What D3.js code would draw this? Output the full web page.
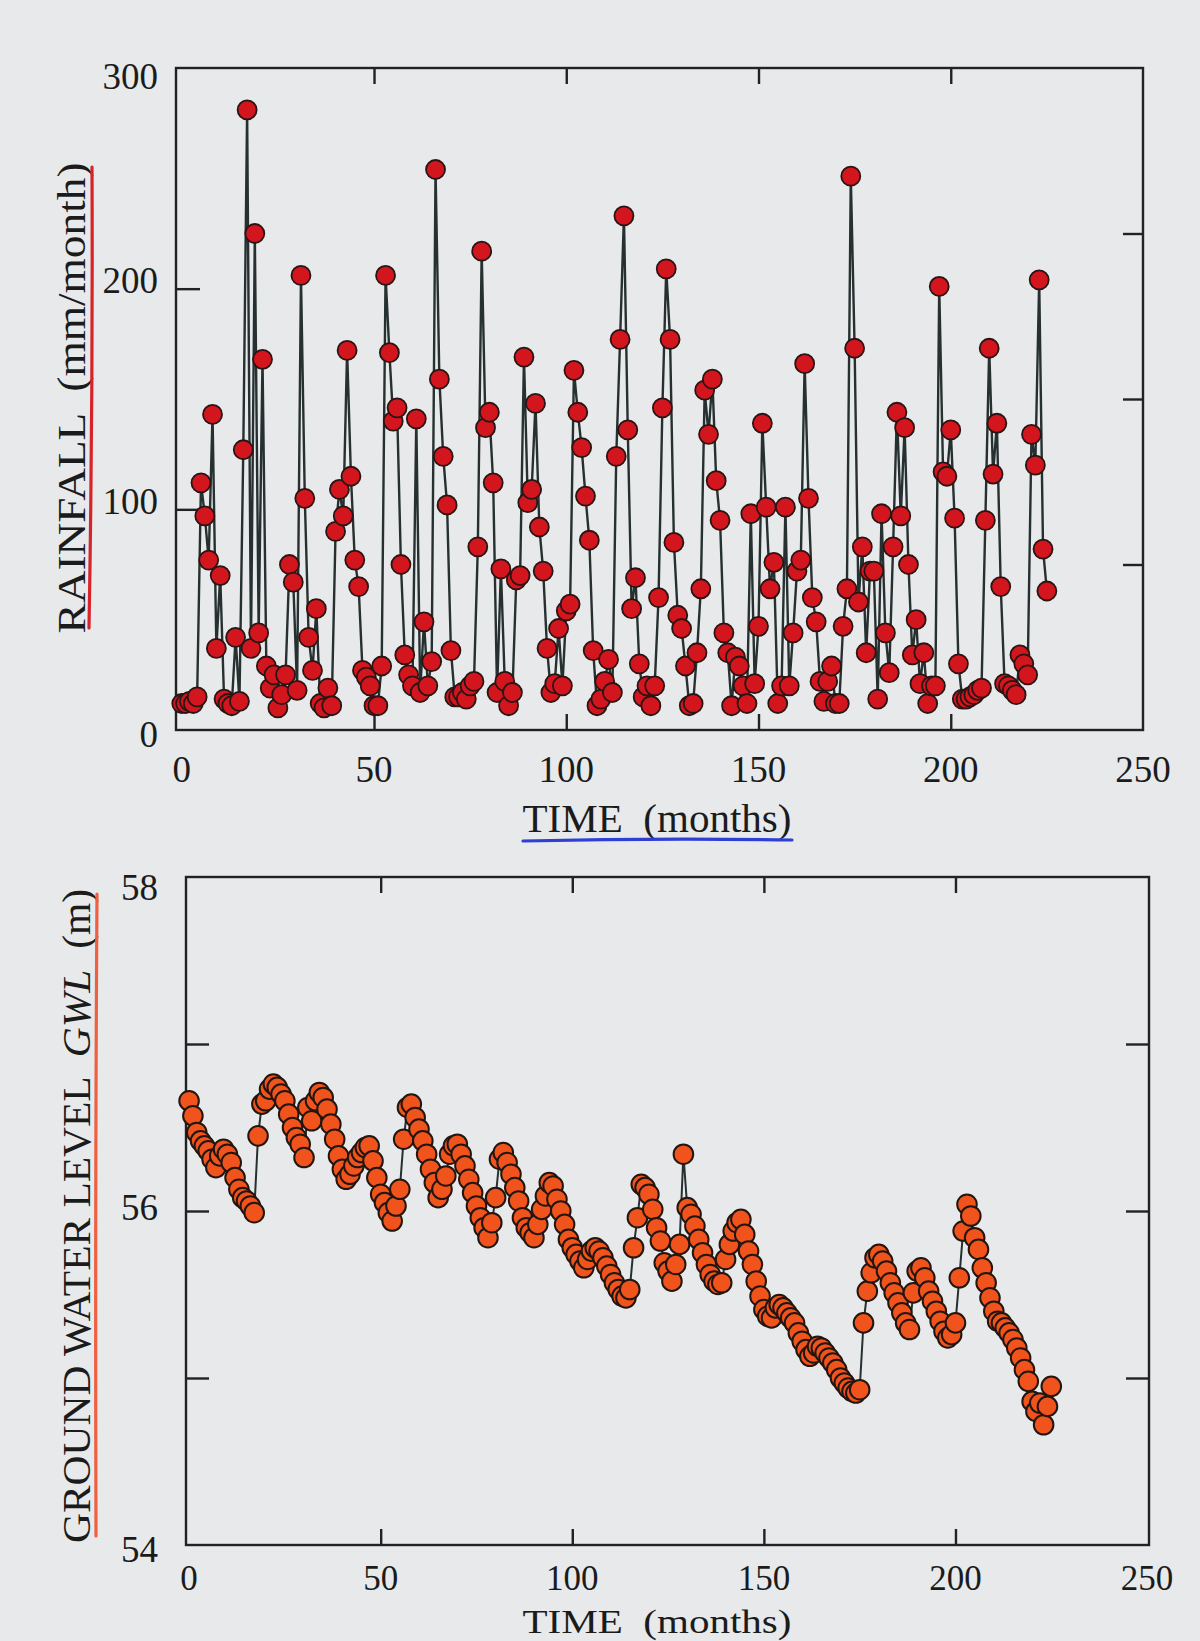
<!DOCTYPE html>
<html>
<head>
<meta charset="utf-8">
<script src="https://cdn.jsdelivr.net/npm/d3@7"></script>
<style>
  html, body { margin: 0; padding: 0; background: #e7e9ea; }
  svg { display: block; }
  text { font-family: "Liberation Serif", "Times New Roman", serif; fill: #1b1b1b; }
</style>
</head>
<body>
<svg id="fig" width="1200" height="1641"></svg>
<script>
// Monthly rainfall (mm/month), months 0..225
const rainfall = [
  12,12,13,12,15,112,97,77,143,37,
  70,14,12,11,42,13,127,281,37,225,
  44,168,29,19,25,10,16,25,75,67,
  18,206,105,42,27,55,12,10,19,11,
  90,109,97,172,115,77,65,27,24,20,
  11,11,29,206,171,140,146,75,34,25,
  20,141,17,49,20,31,254,159,124,102,
  36,15,15,17,14,20,22,83,217,137,
  144,112,17,73,22,11,17,68,70,169,
  103,109,148,92,72,37,17,21,46,20,
  54,57,163,144,128,106,86,36,11,14,
  22,32,17,124,177,233,136,55,69,30,
  15,20,11,20,60,146,209,177,85,52,
  46,29,11,12,35,64,154,134,159,113,
  95,44,35,11,33,29,20,12,98,21,
  47,139,101,64,76,12,20,101,20,44,
  72,77,166,105,60,49,22,13,22,29,
  12,12,47,64,251,173,58,83,35,72,
  72,14,98,44,26,83,144,97,137,75,
  34,50,21,35,12,20,20,201,117,115,
  136,96,30,14,14,15,16,18,19,95,
  173,116,139,65,21,20,18,16,34,30,
  25,134,120,204,82,63
];

// Monthly ground water level (m), months 0..225
const gwl = [
  56.66,56.57,56.47,56.42,56.39,56.36,56.31,56.26,56.33,56.37,
  56.34,56.29,56.20,56.13,56.08,56.06,56.03,55.99,56.45,56.64,
  56.66,56.73,56.76,56.74,56.70,56.66,56.58,56.50,56.44,56.40,
  56.32,56.62,56.54,56.66,56.71,56.68,56.61,56.52,56.43,56.33,
  56.25,56.19,56.22,56.27,56.32,56.35,56.38,56.39,56.30,56.20,
  56.10,56.05,55.99,55.94,56.03,56.13,56.43,56.62,56.64,56.56,
  56.49,56.42,56.34,56.25,56.17,56.08,56.13,56.21,56.34,56.39,
  56.40,56.34,56.27,56.19,56.11,56.03,55.96,55.90,55.84,55.93,
  56.08,56.31,56.35,56.29,56.22,56.14,56.06,55.96,55.90,55.87,
  55.84,55.92,56.01,56.09,56.17,56.15,56.07,56.00,55.92,55.83,
  55.78,55.74,55.70,55.66,55.71,55.76,55.78,55.76,55.72,55.67,
  55.62,55.57,55.53,55.49,55.48,55.53,55.78,55.96,56.16,56.14,
  56.10,56.01,55.90,55.82,55.69,55.64,55.58,55.68,55.80,56.34,
  56.02,55.98,55.91,55.83,55.75,55.68,55.62,55.58,55.56,55.57,
  55.71,55.80,55.88,55.93,55.95,55.86,55.76,55.68,55.58,55.49,
  55.41,55.37,55.36,55.42,55.44,55.42,55.39,55.36,55.33,55.27,
  55.22,55.17,55.13,55.15,55.19,55.18,55.15,55.12,55.09,55.05,
  55.00,54.97,54.94,54.92,54.91,54.93,55.33,55.52,55.63,55.72,
  55.74,55.70,55.64,55.57,55.51,55.45,55.39,55.33,55.29,55.51,
  55.64,55.66,55.60,55.52,55.46,55.40,55.34,55.28,55.24,55.26,
  55.33,55.60,55.88,56.04,55.97,55.84,55.77,55.66,55.57,55.48,
  55.40,55.34,55.33,55.30,55.27,55.23,55.18,55.12,55.05,54.98,
  54.86,54.80,54.85,54.72,54.83,54.95
];

const months = d3.range(rainfall.length);

// Tick values
const timeTickLabels = [0, 50, 100, 150, 200, 250];
const timeInnerTicks = [50, 100, 150, 200];
const rainTickLabels = [0, 100, 200, 300];
const rainLeftTicks = [100, 200];
const rainRightTicks = [75, 150, 225];
const gwlTickLabels = [54, 56, 58];
const gwlSideTicks = [55, 56, 57];

const svg = d3.select("#fig");

// Panel geometry
const rainPanel = { l: 176, r: 1143, t: 68, b: 730 };
const gwlPanel = { l: 186, r: 1149, t: 877, b: 1545 };

const xRain = d3.scaleLinear().domain([-1.5, 250]).range([rainPanel.l, rainPanel.r]);
const yRain = d3.scaleLinear().domain([0, 300]).range([rainPanel.b, rainPanel.t]);
const xGwl = d3.scaleLinear().domain([-0.8, 250.5]).range([gwlPanel.l, gwlPanel.r]);
const yGwl = d3.scaleLinear().domain([54, 58]).range([gwlPanel.b, gwlPanel.t]);

function drawFrame(p, x, y, opts) {
  const g = svg.append("g");
  // inward ticks on all four sides
  g.append("g").attr("transform", `translate(0,${p.b})`)
    .call(d3.axisBottom(x).tickValues(timeInnerTicks).tickSize(-opts.xTickLen).tickFormat(""));
  g.append("g").attr("transform", `translate(0,${p.t})`)
    .call(d3.axisTop(x).tickValues(timeInnerTicks).tickSize(-opts.xTickLen).tickFormat(""));
  g.append("g").attr("transform", `translate(${p.l},0)`)
    .call(d3.axisLeft(y).tickValues(opts.leftTicks).tickSize(-opts.leftLen).tickFormat(""));
  g.append("g").attr("transform", `translate(${p.r},0)`)
    .call(d3.axisRight(y).tickValues(opts.rightTicks).tickSize(-opts.rightLen).tickFormat(""));
  g.selectAll(".domain").remove();
  g.selectAll(".tick line").attr("stroke", "#222").attr("stroke-width", 2.4);

  g.append("rect")
    .attr("x", p.l).attr("y", p.t)
    .attr("width", p.r - p.l).attr("height", p.b - p.t)
    .attr("fill", "none").attr("stroke", "#222").attr("stroke-width", 2.4);

  // tick labels
  g.selectAll(".xl").data(timeTickLabels).enter().append("text")
    .attr("x", d => x(d)).attr("y", p.b + opts.xLabelOffset)
    .attr("text-anchor", "middle").attr("dominant-baseline", "central")
    .style("font-size", opts.xLabelSize).text(d => d);
  g.selectAll(".yl").data(opts.yLabels).enter().append("text")
    .attr("x", opts.yLabelX).attr("y", d => y(d) + opts.yLabelShift(d))
    .attr("text-anchor", "end").attr("dominant-baseline", "central")
    .style("font-size", "37px").text(d => d);
}

drawFrame(rainPanel, xRain, yRain, {
  xTickLen: 16, leftTicks: rainLeftTicks, leftLen: 24, rightTicks: rainRightTicks, rightLen: 20,
  xLabelOffset: 39, xLabelSize: "37px", yLabels: rainTickLabels, yLabelX: 158,
  yLabelShift: d => (d === 300 ? 8 : d === 0 ? 4 : -8)
});
drawFrame(gwlPanel, xGwl, yGwl, {
  xTickLen: 16, leftTicks: gwlSideTicks, leftLen: 23, rightTicks: gwlSideTicks, rightLen: 23,
  xLabelOffset: 33, xLabelSize: "35px", yLabels: gwlTickLabels, yLabelX: 158,
  yLabelShift: d => (d === 58 ? 10 : d === 54 ? 4 : -4)
});

// Rainfall series
const rainLine = d3.line().x(d => xRain(d)).y(d => yRain(rainfall[d]));
svg.append("path").datum(months).attr("d", rainLine)
  .attr("fill", "none").attr("stroke", "#263030").attr("stroke-width", 2.4)
  .attr("stroke-linejoin", "round");
svg.append("g").selectAll("circle").data(months).enter().append("circle")
  .attr("cx", d => xRain(d)).attr("cy", d => yRain(rainfall[d])).attr("r", 9.5)
  .attr("fill", "#d3151d").attr("stroke", "#2a1414").attr("stroke-width", 1.8);

// Ground water level series
const gwlLine = d3.line().x(d => xGwl(d)).y(d => yGwl(gwl[d]));
svg.append("path").datum(months).attr("d", gwlLine)
  .attr("fill", "none").attr("stroke", "#263030").attr("stroke-width", 2)
  .attr("stroke-linejoin", "round");
svg.append("g").selectAll("circle").data(months).enter().append("circle")
  .attr("cx", d => xGwl(d)).attr("cy", d => yGwl(gwl[d])).attr("r", 9.8)
  .attr("fill", "#f0541c").attr("stroke", "#231510").attr("stroke-width", 2);

// Axis titles
svg.append("text")
  .attr("transform", "translate(71,398) rotate(-90)")
  .attr("text-anchor", "middle").attr("dominant-baseline", "central")
  .attr("textLength", 471).attr("lengthAdjust", "spacingAndGlyphs")
  .style("font-size", "40px").style("white-space", "pre")
  .text("RAINFALL  (mm/month)");

const gt = svg.append("text")
  .attr("transform", "translate(76,1216) rotate(-90)")
  .attr("text-anchor", "middle").attr("dominant-baseline", "central")
  .attr("textLength", 654).attr("lengthAdjust", "spacingAndGlyphs")
  .style("font-size", "40px").style("white-space", "pre");
gt.append("tspan").text("GROUND WATER LEVEL  ");
gt.append("tspan").style("font-style", "italic").text("GWL");
gt.append("tspan").text("  (m)");

svg.append("text")
  .attr("x", 657).attr("y", 818)
  .attr("text-anchor", "middle").attr("dominant-baseline", "central")
  .attr("textLength", 269).attr("lengthAdjust", "spacingAndGlyphs")
  .style("font-size", "40px").style("white-space", "pre")
  .text("TIME  (months)");

svg.append("text")
  .attr("x", 657).attr("y", 1621)
  .attr("text-anchor", "middle").attr("dominant-baseline", "central")
  .attr("textLength", 269).attr("lengthAdjust", "spacingAndGlyphs")
  .style("font-size", "34px").style("white-space", "pre")
  .text("TIME  (months)");

// Hand-drawn underlines
svg.append("path").attr("d", "M92,167 Q93,400 89,628")
  .attr("fill", "none").attr("stroke", "#d6242a").attr("stroke-width", 3.2).attr("stroke-linecap", "round");
svg.append("path").attr("d", "M523,841 Q660,838 792,840")
  .attr("fill", "none").attr("stroke", "#2f3fd6").attr("stroke-width", 3.2).attr("stroke-linecap", "round");
svg.append("path").attr("d", "M97,894 Q95,1200 96,1536")
  .attr("fill", "none").attr("stroke", "#ee6040").attr("stroke-width", 3.2).attr("stroke-linecap", "round");
</script>
</body>
</html>
